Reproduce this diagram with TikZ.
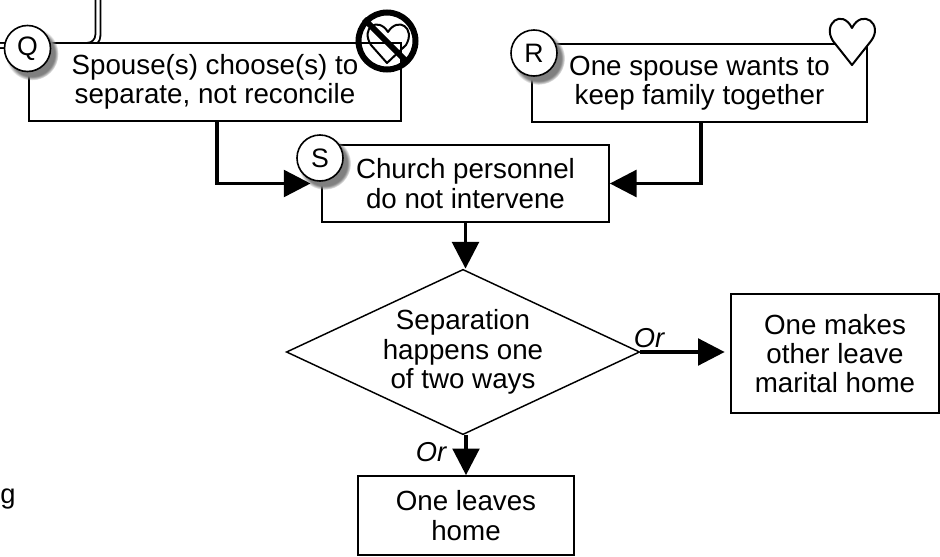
\documentclass[tikz,border=0pt]{standalone}
\usepackage{fontspec}
\setmainfont{Liberation Sans}
\usetikzlibrary{arrows.meta,shapes.geometric,shadows}
\tikzset{
  stepbox/.style={draw,fill=white,line width=1.5pt,inner sep=0pt,align=center,font=\fontsize{20.8}{22}\selectfont},
  letter/.style={circle,draw,fill=white,line width=1.2pt,minimum size=34.5pt,inner sep=0pt,font=\fontsize{20}{22}\selectfont,circular drop shadow={shadow xshift=3pt,shadow yshift=-3.5pt,shadow scale=1.15}},
  flow/.style={line width=2.6pt,-{Triangle[length=20pt,width=20pt]}},
  orlabel/.style={font=\fontsize{20.5}{22}\selectfont\itshape,inner sep=0pt},
  heartline/.style={line width=1.5pt,line join=round},
}
\begin{document}
\begin{tikzpicture}[x=.75pt,y=-.75pt]
\useasboundingbox (0,0) rectangle (940,557);
\clip (0,0) rectangle (940,557);
% line coming in from above
\coordinate (top) at (98,-5);
\coordinate (offleft) at (-5,45.5);
\draw[line width=1.4pt,double,double distance=2.4pt,rounded corners=8pt] (top)--(98,45.5)--(offleft);
\node[stepbox,minimum width=279pt,minimum height=58.5pt] (separate) at (215,82) {Spouse(s) choose(s) to\\separate, not reconcile};
\node[stepbox,minimum width=251pt,minimum height=58.5pt] (together) at (699.5,83) {One spouse wants to\\keep family together};
\node[stepbox,minimum width=215pt,minimum height=58pt] (nointervene) at (465.5,183.5) {Church personnel\\do not intervene};
\node[stepbox,shape=diamond,line width=1.1pt,minimum width=265pt,minimum height=124pt,aspect=2.1] (ways) at (463,352) {Separation\\happens one\\of two ways};
\node[stepbox,minimum width=156pt,minimum height=89pt] (makeleave) at (835,353.5) {One makes\\other leave\\marital home};
\node[stepbox,minimum width=162pt,minimum height=59pt] (leaves) at (466,515.5) {One leaves\\home};
\node[letter] (Q) at (27.5,48.5) {Q};
\node[letter] (R) at (534,53) {R};
\node[letter] (S) at (320,158) {S};
% arrows
\draw[flow,shorten >=8pt] ([xshift=1.5pt]separate.south)|-(nointervene.west);
\draw[flow] ([xshift=1pt]together.south)|-(nointervene.east);
\draw[flow] (nointervene.south)--(nointervene.south|-ways.north);
\draw[flow,shorten >=4pt] (ways.east)--(ways.east-|makeleave.west);
\draw[flow] (ways.south-|leaves.north)--(leaves.north);
\node[orlabel] (orright) at (649,338) {Or};
\node[orlabel] (orbottom) at (431,452) {Or};
\node[anchor=base west,inner sep=0pt,font=\fontsize{20.5}{22}\selectfont] (cutoff) at (0,503) {g};
% hearts
\draw[heartline,fill=white] (852,65)--(833,41).. controls (822,24) and (842,8) .. (852,28).. controls (862,8) and (884,24) .. (871,41)--cycle;
\draw[heartline] (387,63)--(371,45).. controls (360,28) and (378,16) .. (388,32).. controls (398,16) and (416,28) .. (406,45)--cycle;
\draw[line width=4.5pt] (387,41) circle (28.5);
\draw[line width=4.5pt] (364,19)--(408,63);
\end{tikzpicture}
\end{document}
